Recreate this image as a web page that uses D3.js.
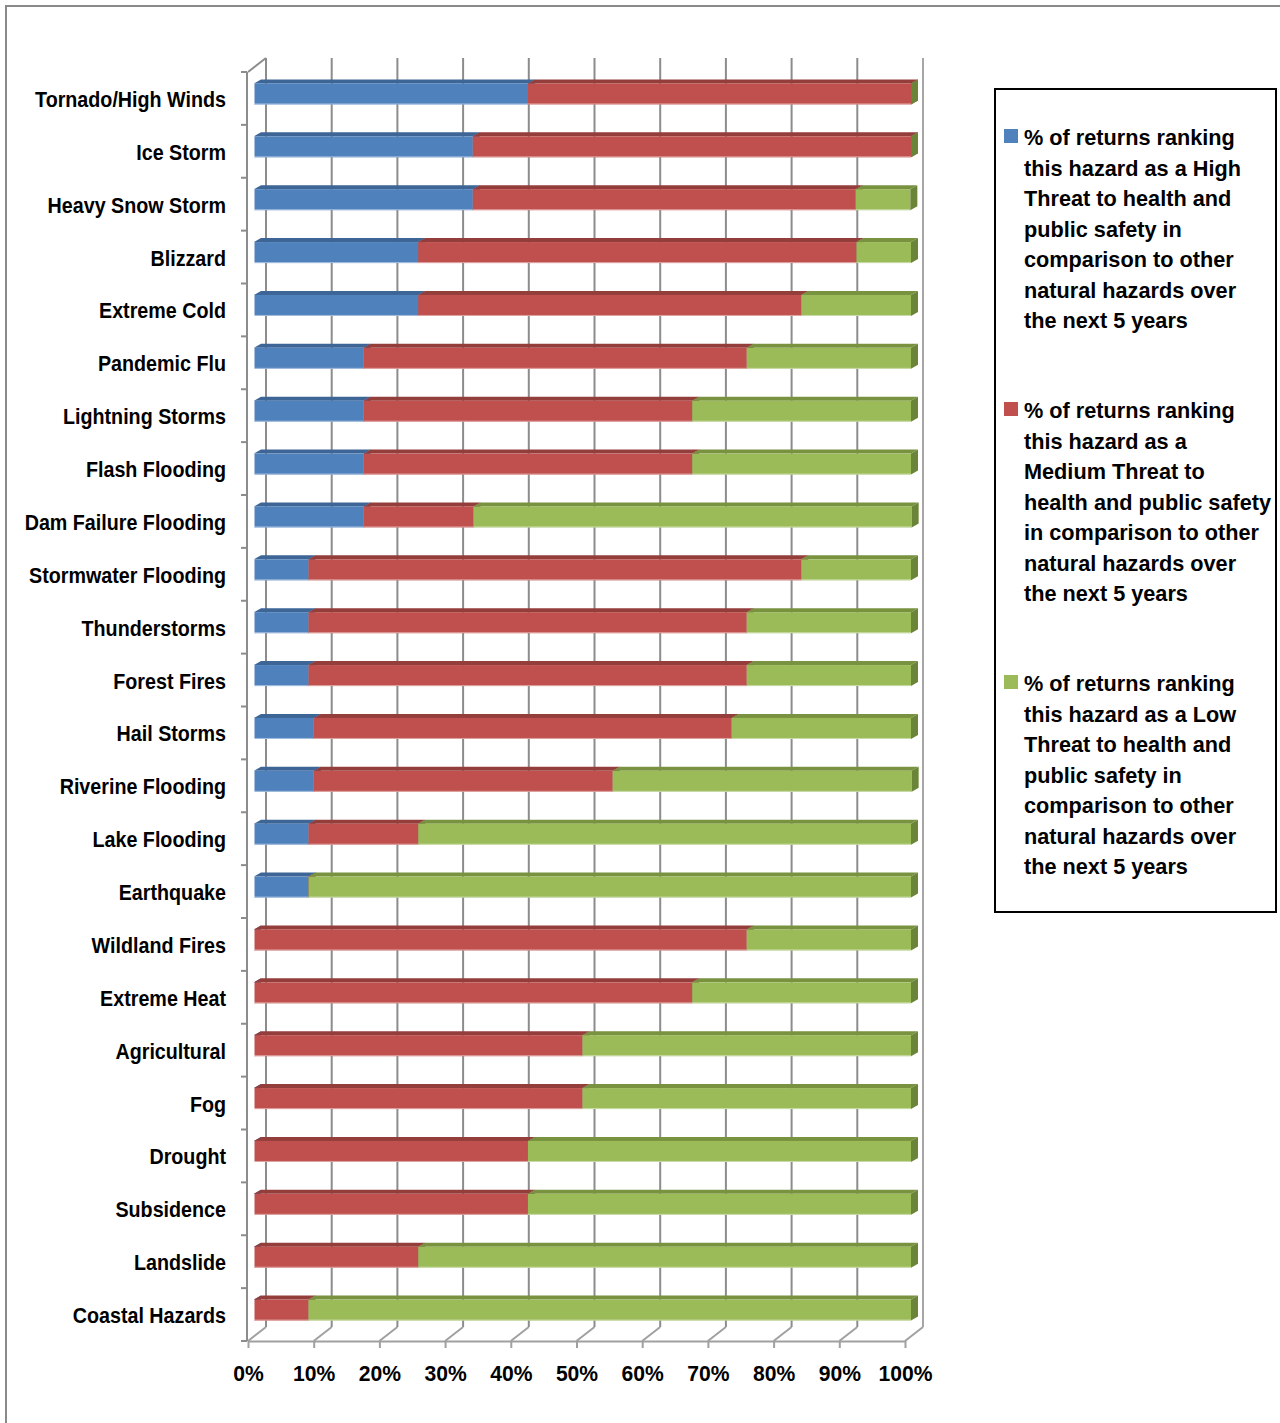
<!DOCTYPE html>
<html>
<head>
<meta charset="utf-8">
<script src="https://cdn.jsdelivr.net/npm/d3@7"></script>
<style>
  html, body { margin: 0; padding: 0; background: #ffffff; }
  svg { display: block; }
  .lbl { font-family: "Liberation Sans", Arial, sans-serif; font-weight: bold; fill: #000; }
</style>
</head>
<body>
<svg id="chart" width="1280" height="1423"></svg>
<script>
// ---------------- data ----------------
const categories = [
  "Tornado/High Winds", "Ice Storm", "Heavy Snow Storm", "Blizzard", "Extreme Cold",
  "Pandemic Flu", "Lightning Storms", "Flash Flooding", "Dam Failure Flooding",
  "Stormwater Flooding", "Thunderstorms", "Forest Fires", "Hail Storms",
  "Riverine Flooding", "Lake Flooding", "Earthquake", "Wildland Fires", "Extreme Heat",
  "Agricultural", "Fog", "Drought", "Subsidence", "Landslide", "Coastal Hazards"
];
const highThreat   = [41.7, 33.3, 33.3, 25.0, 25.0, 16.7, 16.7, 16.7, 16.7, 8.3, 8.3, 8.3, 9.1, 9.1, 8.3, 8.3, 0, 0, 0, 0, 0, 0, 0, 0];
const mediumThreat = [58.3, 66.7, 58.3, 66.7, 58.3, 58.3, 50.0, 50.0, 16.7, 75.0, 66.7, 66.7, 63.6, 45.5, 16.7, 0, 75.0, 66.7, 50.0, 50.0, 41.7, 41.7, 25.0, 8.3];
const lowThreat    = [0, 0, 8.3, 8.3, 16.7, 25.0, 33.3, 33.3, 66.7, 16.7, 25.0, 25.0, 27.3, 45.5, 75.0, 91.7, 25.0, 33.3, 50.0, 50.0, 58.3, 58.3, 75.0, 91.7];
const xTicks = [0, 10, 20, 30, 40, 50, 60, 70, 80, 90, 100];
const legendTexts = [
  ["% of returns ranking", "this hazard as a High", "Threat to health and", "public safety in", "comparison to other", "natural hazards over", "the next 5 years"],
  ["% of returns ranking", "this hazard as a", "Medium Threat to", "health and public safety", "in comparison to other", "natural hazards over", "the next 5 years"],
  ["% of returns ranking", "this hazard as a Low", "Threat to health and", "public safety in", "comparison to other", "natural hazards over", "the next 5 years"]
];
const seriesList = [highThreat, mediumThreat, lowThreat];

// ---------------- styles ----------------
const colors = [
  { front: "#4f81bd", top: "#3d6596", side: "#395e8b", edge: "#b9cde5" },
  { front: "#c0504d", top: "#943e3c", side: "#8c3a38", edge: "#e6b9b8" },
  { front: "#9bbb59", top: "#789240", side: "#6b8538", edge: "#d7e4bd" }
];
const gridColor = "#8c8c8c";

const svg = d3.select("#chart");

// outer chart frame
svg.append("path").attr("d", "M6,1423 L6,6 L1280,6")
  .attr("fill", "none").attr("stroke", "#8a8a8a").attr("stroke-width", 2);

// ---------------- scales ----------------
const x = d3.scaleLinear().domain([0, 100]).range([248, 905]);
const y = d3.scaleBand().domain(categories).range([72, 1341]).paddingInner(0).paddingOuter(0);
const wall = { dx: 18, dy: -14 };      // back wall offset
const barOff = { dx: 6, dy: -4.5 };     // bar front face offset
const barDepth = { dx: 7, dy: -4 };     // bar depth
const barH = 21;

const yTop = 72, yBot = 1341;

// ---------------- walls / grid ----------------
const grid = svg.append("g");
grid.selectAll("line.gv").data(xTicks).enter().append("line")
  .attr("x1", d => x(d) + wall.dx).attr("x2", d => x(d) + wall.dx)
  .attr("y1", yTop + wall.dy).attr("y2", yBot + wall.dy)
  .attr("stroke", d => d === 100 ? "#a6a6a6" : gridColor).attr("stroke-width", 2);
grid.selectAll("line.gd").data(xTicks).enter().append("line")
  .attr("x1", d => x(d)).attr("x2", d => x(d) + wall.dx)
  .attr("y1", yBot).attr("y2", yBot + wall.dy)
  .attr("stroke", "#a0a0a0").attr("stroke-width", 2);
grid.append("line")
  .attr("x1", x(0)).attr("y1", yTop).attr("x2", x(0) + wall.dx).attr("y2", yTop + wall.dy)
  .attr("stroke", gridColor).attr("stroke-width", 2);
grid.append("line")
  .attr("x1", x(0) - 1).attr("x2", x(0) - 1).attr("y1", yTop).attr("y2", yBot)
  .attr("stroke", gridColor).attr("stroke-width", 2);
const boundaries = categories.map(c => y(c)).concat([yBot]);
grid.selectAll("line.lt").data(boundaries).enter().append("line")
  .attr("x1", x(0) - 7).attr("x2", x(0) - 1)
  .attr("y1", d => d).attr("y2", d => d)
  .attr("stroke", gridColor).attr("stroke-width", 2);

// ---------------- bars ----------------
const bars = svg.append("g");
categories.forEach((cat, i) => {
  const cy = y(cat) + y.bandwidth() / 2 + barOff.dy;
  const top = cy - barH / 2, bot = cy + barH / 2;
  let cum = 0;
  seriesList.forEach((s, k) => {
    const v = s[i];
    const x0 = x(cum) + barOff.dx, x1 = x(cum + v) + barOff.dx;
    cum += v;
    const c = colors[k];
    const g = bars.append("g");
    g.append("path").attr("fill", c.top)
      .attr("d", `M${x0},${top} L${x1},${top} L${x1 + barDepth.dx},${top + barDepth.dy} L${x0 + barDepth.dx},${top + barDepth.dy} Z`);
    if (v > 0) {
      g.append("rect").attr("x", x0).attr("y", top).attr("width", x1 - x0).attr("height", barH)
        .attr("fill", c.front);
      g.append("line").attr("x1", x0).attr("x2", x1).attr("y1", bot - 0.5).attr("y2", bot - 0.5)
        .attr("stroke", c.edge).attr("stroke-width", 1).attr("opacity", 0.8);
    }
    g.append("path").attr("fill", c.side)
      .attr("d", `M${x1},${top} L${x1 + barDepth.dx},${top + barDepth.dy} L${x1 + barDepth.dx},${bot + barDepth.dy} L${x1},${bot} Z`);
  });
  bars.append("line").attr("x1", x(0) + barOff.dx + 0.5).attr("x2", x(0) + barOff.dx + 0.5)
    .attr("y1", top).attr("y2", bot)
    .attr("stroke", "#ffffff").attr("stroke-opacity", 0.5).attr("stroke-width", 1);
});

// ---------------- x axis ----------------
const xAxis = d3.axisBottom(x).tickValues(xTicks).tickFormat(d => d + "%").tickSize(7).tickSizeOuter(0);
const axG = svg.append("g").attr("transform", `translate(0,${yBot})`).call(xAxis);
axG.select(".domain").attr("stroke", "#a0a0a0").attr("stroke-width", 2);
axG.selectAll(".tick line").attr("stroke", "#a0a0a0").attr("stroke-width", 2);
axG.selectAll(".tick text").attr("class", "lbl").attr("font-size", 22).attr("dy", null).attr("y", 40);

// ---------------- category labels ----------------
const catG = svg.append("g");
const catTexts = catG.selectAll("text").data(categories).enter().append("text")
  .attr("class", "lbl").attr("font-size", 22).attr("text-anchor", "end")
  .text(d => d);
const refLen = catTexts.nodes()[0].getComputedTextLength();
const kCat = 191 / refLen;
catTexts.attr("transform", d => `translate(226,${y(d) + y.bandwidth() / 2 + 8.5}) scale(${kCat},1)`);

const axTexts = axG.selectAll(".tick text");
const lastLen = axTexts.nodes()[axTexts.size() - 1].getComputedTextLength();
const kAx = 54 / lastLen;
axTexts.attr("transform", `scale(${kAx},1)`).attr("x", 0);

// ---------------- legend ----------------
const leg = svg.append("g");
leg.append("rect").attr("x", 995).attr("y", 89).attr("width", 281).attr("height", 823)
  .attr("fill", "#fff").attr("stroke", "#000").attr("stroke-width", 2);
const lineH = 30.5;
const firstBase = [145, 418, 691];
let kLeg = null;
legendTexts.forEach((lines, k) => {
  leg.append("rect").attr("x", 1004).attr("y", firstBase[k] - 16).attr("width", 14).attr("height", 14)
    .attr("fill", colors[k].front);
  lines.forEach((t, j) => {
    const tx = leg.append("text").attr("class", "lbl").attr("font-size", 23).text(t);
    if (kLeg === null) kLeg = 211 / tx.node().getComputedTextLength();
    tx.attr("transform", `translate(1024,${firstBase[k] + j * lineH}) scale(${kLeg},1)`);
  });
});
</script>
</body>
</html>
